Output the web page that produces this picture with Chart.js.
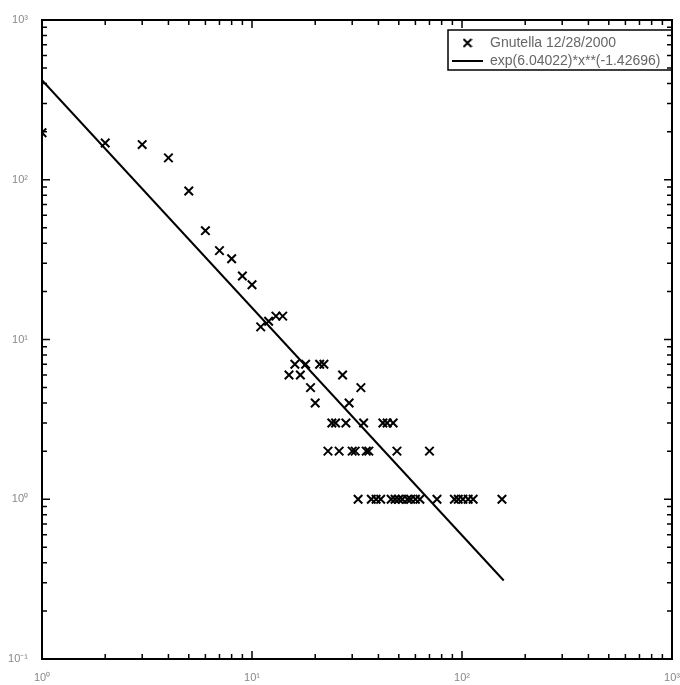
<!DOCTYPE html>
<html>
<head>
<meta charset="utf-8">
<script src="https://cdn.jsdelivr.net/npm/chart.js@4.4.1/dist/chart.umd.min.js"></script>
<style>
  html, body { margin: 0; padding: 0; background: #fff; }
  #wrap { width: 680px; height: 685px; }
</style>
</head>
<body>
<div id="wrap"><canvas id="chart" width="680" height="685"></canvas></div>
<script>
// degree distribution
const degree = [1, 2, 3, 4, 5, 6, 7, 8, 9, 10, 11, 12, 13, 14,
  15, 16, 17, 18, 19, 20, 21, 22, 23, 24, 25, 26, 27, 28, 29, 30,
  31, 32, 33, 34, 35, 36, 37, 39, 41, 42, 44, 46, 47, 48, 49, 50,
  52, 55, 57, 60, 63, 70, 76, 92, 96, 101, 107, 113, 155];
const nodes = [197, 170, 166, 137, 85, 48, 36, 32, 25, 22, 12, 13, 14, 14,
  6, 7, 6, 7, 5, 4, 7, 7, 2, 3, 3, 2, 6, 3, 4, 2,
  2, 1, 5, 3, 2, 2, 1, 1, 1, 3, 3, 1, 3, 1, 2, 1,
  1, 1, 1, 1, 1, 2, 1, 1, 1, 1, 1, 1, 1];

// fitted power law, end points
const fitX = [1, 158];
const fitY = [420, 0.31];

const seriesLabels = ['Gnutella 12/28/2000', 'exp(6.04022)*x**(-1.42696)'];

const xTickValues = [1, 10, 100, 1000];
const xTickLabels = ['10⁰', '10¹', '10²', '10³'];
const yTickValues = [0.1, 1, 10, 100, 1000];
const yTickLabels = ['10⁻¹', '10⁰', '10¹', '10²', '10³'];

Chart.defaults.font.family = "'Liberation Sans', Arial, sans-serif";

// little 'x' used as legend icon
const xIcon = document.createElement('canvas');
xIcon.width = 10;
xIcon.height = 10;
const ic = xIcon.getContext('2d');
ic.strokeStyle = '#000';
ic.lineWidth = 2;
ic.beginPath();
ic.moveTo(1, 1); ic.lineTo(9, 9);
ic.moveTo(9, 1); ic.lineTo(1, 9);
ic.stroke();

// frame with inward log ticks on all four sides, plus legend border
const matlabFrame = {
  id: 'matlabFrame',
  afterLayout(chart) {
    const lg = chart.legend;
    lg.left = 448; lg.right = 672; lg.width = 224;
    lg.top = 32; lg.bottom = 100; lg.height = 68;
  },
  afterDatasetsDraw(chart) {
    const {ctx, chartArea: a, scales: {x, y}} = chart;
    ctx.save();
    ctx.strokeStyle = '#000';
    ctx.lineWidth = 1.5;
    ctx.beginPath();
    for (let d = 0; d < 3; d++) {
      for (let m = 1; m <= 9; m++) {
        const px = x.getPixelForValue(m * Math.pow(10, d));
        const len = m === 1 ? 8 : 5;
        ctx.moveTo(px, a.bottom); ctx.lineTo(px, a.bottom - len);
        ctx.moveTo(px, a.top); ctx.lineTo(px, a.top + len);
      }
    }
    for (let d = -1; d < 3; d++) {
      for (let m = 1; m <= 9; m++) {
        const py = y.getPixelForValue(m * Math.pow(10, d));
        const len = m === 1 ? 8 : 5;
        ctx.moveTo(a.left, py); ctx.lineTo(a.left + len, py);
        ctx.moveTo(a.right, py); ctx.lineTo(a.right - len, py);
      }
    }
    ctx.stroke();
    ctx.lineWidth = 2;
    ctx.strokeRect(a.left, a.top, a.right - a.left, a.bottom - a.top);
    ctx.lineWidth = 1.5;
    ctx.strokeRect(448, 30, 224, 40);
    ctx.restore();
  }
};

new Chart(document.getElementById('chart'), {
  data: {
    datasets: [
      {
        type: 'scatter',
        label: seriesLabels[0],
        data: degree.map((d, i) => ({x: d, y: nodes[i]})),
        pointStyle: 'crossRot',
        pointRadius: 6,
        borderWidth: 2,
        borderColor: '#000',
        backgroundColor: '#000',
        clip: 0
      },
      {
        type: 'line',
        label: seriesLabels[1],
        data: fitX.map((v, i) => ({x: v, y: fitY[i]})),
        borderColor: '#000',
        backgroundColor: '#000',
        borderWidth: 2,
        pointRadius: 0,
        pointStyle: 'line',
        tension: 0
      }
    ]
  },
  options: {
    responsive: false,
    animation: false,
    events: [],
    devicePixelRatio: 1,
    layout: { padding: { top: 20, right: -3, left: 0, bottom: 0 } },
    scales: {
      x: {
        type: 'logarithmic',
        min: 1,
        max: 1000,
        grid: { display: false },
        border: { display: false },
        ticks: {
          autoSkip: false,
          maxRotation: 0,
          color: '#888',
          padding: 4,
          font: { size: 11 },
          callback: (v, i) => xTickLabels[i]
        },
        afterBuildTicks: s => { s.ticks = xTickValues.map(v => ({value: v})); },
        afterFit: s => { s.height = 26; s.paddingLeft = 0; s.paddingRight = 0; }
      },
      y: {
        type: 'logarithmic',
        min: 0.1,
        max: 1000,
        grid: { display: false },
        border: { display: false },
        ticks: {
          autoSkip: false,
          color: '#888',
          padding: 6,
          font: { size: 11 },
          callback: (v, i) => yTickLabels[i]
        },
        afterBuildTicks: s => { s.ticks = yTickValues.map(v => ({value: v})); },
        afterFit: s => { s.width = 42; s.paddingTop = 0; s.paddingBottom = 0; }
      }
    },
    plugins: {
      tooltip: { enabled: false },
      legend: {
        position: 'chartArea',
        align: 'start',
        labels: {
          usePointStyle: true,
          pointStyleWidth: 31,
          boxHeight: 6,
          padding: 4,
          color: '#666',
          font: { size: 14 },
          generateLabels(chart) {
            const items = Chart.defaults.plugins.legend.labels.generateLabels(chart);
            items[0].pointStyle = xIcon;
            return items;
          }
        }
      }
    }
  },
  plugins: [matlabFrame]
});
</script>
</body>
</html>
